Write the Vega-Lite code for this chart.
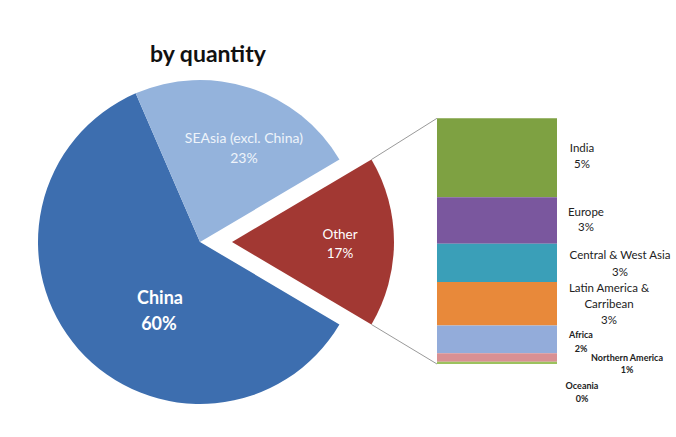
{
  "$schema": "https://vega.github.io/schema/vega-lite/v6.json",
  "background": "white",
  "padding": {"left": 0, "top": 44, "right": 0, "bottom": 0},
  "config": {"font": "Lato", "view": {"stroke": null}, "text": {"font": "Lato"}},
  "title": {"text": "by quantity", "anchor": "start", "dx": 150, "fontSize": 23, "fontWeight": "bold", "font": "Lato", "color": "#111111", "offset": 10},
  "datasets": {
    "pie": [
      {"region": "China", "share": 0.60, "order": 1},
      {"region": "SEAsia (excl. China)", "share": 0.23, "order": 2},
      {"region": "Other", "share": 0.17, "order": 3}
    ],
    "bar": [
      {"region": "India", "share": 0.0545, "order": 1},
      {"region": "Europe", "share": 0.032, "order": 2},
      {"region": "Central & West Asia", "share": 0.0265, "order": 3},
      {"region": "Latin America &\nCarribean", "share": 0.03, "order": 4},
      {"region": "Africa", "share": 0.019, "order": 5},
      {"region": "Northern America", "share": 0.006, "order": 6},
      {"region": "Oceania", "share": 0.0015, "order": 7}
    ]
  },
  "spacing": 0,
  "bounds": "flush",
  "resolve": {"scale": {"color": "independent"}},
  "hconcat": [
    {
      "width": 400,
      "height": 330,
      "data": {"name": "pie"},
      "encoding": {
        "theta": {"field": "share", "type": "quantitative", "stack": true, "scale": {"range": [2.1049, 8.3881]}},
        "order": {"field": "order", "type": "quantitative", "sort": "ascending"}
      },
      "layer": [
        {
          "mark": {"type": "arc", "outerRadius": 162},
          "encoding": {
            "color": {"field": "region", "type": "nominal", "legend": null, "scale": {"domain": ["China", "SEAsia (excl. China)", "Other"], "range": ["#3d6eaf", "#94b3dc", "#a23833"]}},
            "opacity": {"condition": {"test": "datum.region === 'Other'", "value": 0}, "value": 1}
          }
        },
        {
          "mark": {"type": "arc", "outerRadius": 162, "xOffset": 32},
          "encoding": {
            "color": {"field": "region", "type": "nominal", "legend": null, "scale": {"domain": ["China", "SEAsia (excl. China)", "Other"], "range": ["#3d6eaf", "#94b3dc", "#a23833"]}},
            "opacity": {"condition": {"test": "datum.region === 'Other'", "value": 1}, "value": 0}
          }
        },
        {
          "mark": {"type": "text", "radius": 80, "dx": 20, "dy": 9, "fontSize": 18, "fontWeight": "bold", "color": "white", "align": "center", "baseline": "alphabetic"},
          "encoding": {"text": {"condition": {"test": "datum.region !== 'China'", "value": ""}, "field": "region", "type": "nominal"}}
        },
        {
          "mark": {"type": "text", "radius": 80, "dx": 19, "dy": 35, "fontSize": 18, "fontWeight": "bold", "color": "white", "align": "center", "baseline": "alphabetic"},
          "encoding": {"text": {"condition": {"test": "datum.region !== 'China'", "value": ""}, "field": "share", "type": "quantitative", "format": ".0%"}}
        },
        {
          "mark": {"type": "text", "radius": 100, "dx": 13, "dy": -4, "fontSize": 14, "color": "#eef3fa", "align": "center", "baseline": "alphabetic"},
          "encoding": {"text": {"condition": {"test": "datum.order !== 2", "value": ""}, "field": "region", "type": "nominal"}}
        },
        {
          "mark": {"type": "text", "radius": 100, "dx": 13, "dy": 16, "fontSize": 14, "color": "#eef3fa", "align": "center", "baseline": "alphabetic"},
          "encoding": {"text": {"condition": {"test": "datum.order !== 2", "value": ""}, "field": "share", "type": "quantitative", "format": ".0%"}}
        },
        {
          "mark": {"type": "text", "radius": 108, "xOffset": 32, "dy": -3, "fontSize": 13.5, "color": "#ffffff", "align": "center", "baseline": "alphabetic"},
          "encoding": {"text": {"condition": {"test": "datum.region !== 'Other'", "value": ""}, "field": "region", "type": "nominal"}}
        },
        {
          "mark": {"type": "text", "radius": 108, "xOffset": 32, "dy": 16, "fontSize": 13.5, "color": "#ffffff", "align": "center", "baseline": "alphabetic"},
          "encoding": {"text": {"condition": {"test": "datum.region !== 'Other'", "value": ""}, "field": "share", "type": "quantitative", "format": ".0%"}}
        }
      ]
    },
    {
      "width": 157,
      "height": 287,
      "data": {"name": "bar"},
      "layer": [
        {
          "transform": [{"stack": "share", "groupby": [], "sort": [{"field": "order", "order": "descending"}], "as": ["y0", "y1"]}],
          "mark": {"type": "bar"},
          "encoding": {
            "x": {"datum": 0, "type": "quantitative", "scale": {"domain": [-0.3083, 1], "nice": false, "zero": false}, "axis": null},
            "x2": {"datum": 1},
            "y": {"field": "y0", "type": "quantitative", "scale": {"domain": [0, 0.198], "nice": false}, "axis": null},
            "y2": {"field": "y1"},
            "color": {"field": "region", "type": "nominal", "legend": null, "scale": {"domain": ["India", "Europe", "Central & West Asia", "Latin America &\nCarribean", "Africa", "Northern America", "Oceania"], "range": ["#7ea142", "#7a579e", "#3a9fb8", "#e8893a", "#93acda", "#d99093", "#9cc25e"]}}
          }
        },
        {
          "data": {"values": [{}]},
          "mark": {"type": "rule", "color": "#9a9a9a", "strokeWidth": 1},
          "encoding": {
            "x": {"datum": -0.547, "type": "quantitative", "scale": {"domain": [-0.3083, 1], "nice": false, "zero": false}, "axis": null},
            "x2": {"datum": 0},
            "y": {"datum": 0.141, "type": "quantitative", "scale": {"domain": [0, 0.198], "nice": false}, "axis": null},
            "y2": {"datum": 0.1695}
          }
        },
        {
          "data": {"values": [{}]},
          "mark": {"type": "rule", "color": "#9a9a9a", "strokeWidth": 1},
          "encoding": {
            "x": {"datum": -0.547, "type": "quantitative", "scale": {"domain": [-0.3083, 1], "nice": false, "zero": false}, "axis": null},
            "x2": {"datum": 0},
            "y": {"datum": 0.0273, "type": "quantitative", "scale": {"domain": [0, 0.198], "nice": false}, "axis": null},
            "y2": {"datum": 0}
          }
        },
        {
          "transform": [
            {"stack": "share", "groupby": [], "sort": [{"field": "order", "order": "descending"}], "as": ["y0", "y1"]},
            {"fold": ["y0", "y1"], "as": ["edge", "ypos"]},
            {"aggregate": [{"op": "mean", "field": "ypos", "as": "ymid"}], "groupby": ["region", "share", "order"]}
          ],
          "encoding": {
            "x": {"datum": 1, "type": "quantitative", "scale": {"domain": [-0.3083, 1], "nice": false, "zero": false}, "axis": null},
            "y": {"field": "ymid", "type": "quantitative", "scale": {"domain": [0, 0.198], "nice": false}, "axis": null}
          },
          "layer": [
            {"transform": [{"filter": "datum.order === 1"}], "mark": {"type": "text", "align": "center", "baseline": "alphabetic", "dx": 25, "dy": -5.5, "fontSize": 11.5, "color": "#222222"}, "encoding": {"text": {"field": "region", "type": "nominal"}}},
            {"transform": [{"filter": "datum.order === 1"}], "mark": {"type": "text", "align": "center", "baseline": "alphabetic", "dx": 25, "dy": 10.5, "fontSize": 11.5, "color": "#222222"}, "encoding": {"text": {"field": "share", "type": "quantitative", "format": ".0%"}}},
            {"transform": [{"filter": "datum.order === 2"}], "mark": {"type": "text", "align": "center", "baseline": "alphabetic", "dx": 29, "dy": -4.5, "fontSize": 11.5, "color": "#222222"}, "encoding": {"text": {"field": "region", "type": "nominal"}}},
            {"transform": [{"filter": "datum.order === 2"}], "mark": {"type": "text", "align": "center", "baseline": "alphabetic", "dx": 29, "dy": 10.5, "fontSize": 11.5, "color": "#222222"}, "encoding": {"text": {"field": "share", "type": "quantitative", "format": ".0%"}}},
            {"transform": [{"filter": "datum.order === 3"}], "mark": {"type": "text", "align": "center", "baseline": "alphabetic", "dx": 63, "dy": -4, "fontSize": 11.5, "color": "#222222"}, "encoding": {"text": {"field": "region", "type": "nominal"}}},
            {"transform": [{"filter": "datum.order === 3"}], "mark": {"type": "text", "align": "center", "baseline": "alphabetic", "dx": 63, "dy": 13, "fontSize": 11.5, "color": "#222222"}, "encoding": {"text": {"field": "share", "type": "quantitative", "format": ".0%"}}},
            {"transform": [{"filter": "datum.order === 4"}], "mark": {"type": "text", "align": "center", "baseline": "alphabetic", "dx": 52, "dy": -11.5, "fontSize": 11.5, "lineBreak": "\n", "lineHeight": 16, "color": "#222222"}, "encoding": {"text": {"field": "region", "type": "nominal"}}},
            {"transform": [{"filter": "datum.order === 4"}], "mark": {"type": "text", "align": "center", "baseline": "alphabetic", "dx": 52, "dy": 20.5, "fontSize": 11.5, "color": "#222222"}, "encoding": {"text": {"field": "share", "type": "quantitative", "format": ".0%"}}},
            {"transform": [{"filter": "datum.order === 5"}], "mark": {"type": "text", "align": "center", "baseline": "alphabetic", "dx": 24, "dy": -1.5, "fontSize": 9, "fontWeight": "bold", "color": "#222222"}, "encoding": {"text": {"field": "region", "type": "nominal"}}},
            {"transform": [{"filter": "datum.order === 5"}], "mark": {"type": "text", "align": "center", "baseline": "alphabetic", "dx": 24, "dy": 12.5, "fontSize": 9, "fontWeight": "bold", "color": "#222222"}, "encoding": {"text": {"field": "share", "type": "quantitative", "format": ".0%"}}},
            {"transform": [{"filter": "datum.order === 6"}], "mark": {"type": "text", "align": "center", "baseline": "alphabetic", "dx": 70, "dy": 3.5, "fontSize": 9, "fontWeight": "bold", "color": "#222222"}, "encoding": {"text": {"field": "region", "type": "nominal"}}},
            {"transform": [{"filter": "datum.order === 6"}], "mark": {"type": "text", "align": "center", "baseline": "alphabetic", "dx": 70, "dy": 15.5, "fontSize": 9, "fontWeight": "bold", "color": "#222222"}, "encoding": {"text": {"field": "share", "type": "quantitative", "format": ".0%"}}},
            {"transform": [{"filter": "datum.order === 7"}], "mark": {"type": "text", "align": "center", "baseline": "alphabetic", "dx": 25, "dy": 26, "fontSize": 9, "fontWeight": "bold", "color": "#222222"}, "encoding": {"text": {"field": "region", "type": "nominal"}}},
            {"transform": [{"filter": "datum.order === 7"}], "mark": {"type": "text", "align": "center", "baseline": "alphabetic", "dx": 25, "dy": 39, "fontSize": 9, "fontWeight": "bold", "color": "#222222"}, "encoding": {"text": {"field": "share", "type": "quantitative", "format": ".0%"}}}
          ]
        }
      ]
    }
  ]
}
